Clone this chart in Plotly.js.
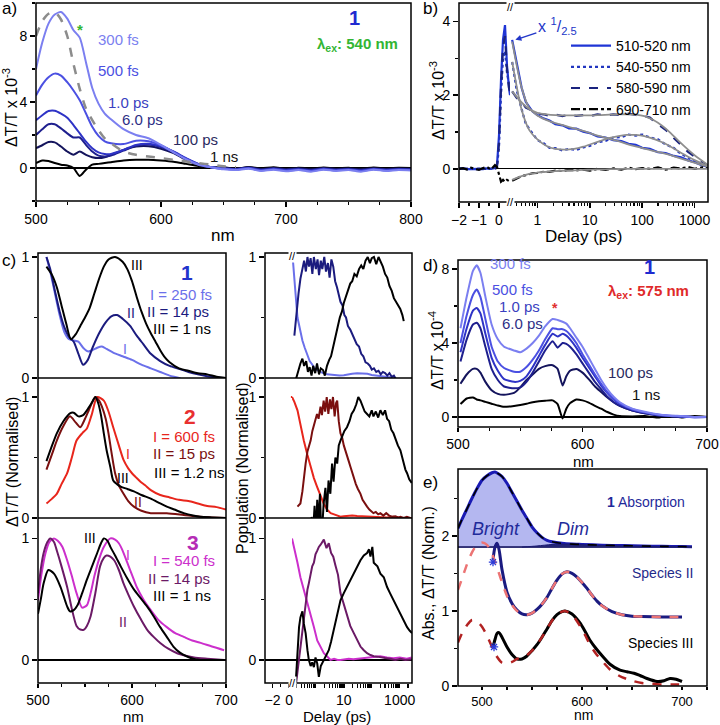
<!DOCTYPE html>
<html><head><meta charset="utf-8">
<script src="https://cdn.plot.ly/plotly-3.0.1.min.js"></script>
<style>html,body{margin:0;padding:0;background:#fff}#chart{width:720px;height:725px}</style>
</head><body><div id="chart"></div>
<script>
// ================= DATA =================
// Panel a: transient spectra, lambda_ex 540 nm (x 10^-3)
const aWl = [500,505,510,515,520,525,530,535,540,545,550,555,560,570,580,590,600,610,620,630,640,650,660,670,680,690,700,710,720,730,740,750,760,770,780,790,800];
const a300fs = [6.0,7.6,8.75,9.3,9.45,9.05,8.35,7.9,6.4,4.85,3.9,3.3,2.95,2.35,2.0,1.8,1.4,0.95,0.52,0.2,0.05,-0.08,-0.12,-0.05,-0.18,-0.1,-0.2,-0.12,-0.22,-0.1,-0.18,-0.12,-0.22,-0.1,-0.18,-0.12,-0.15];
const a500fs = [4.4,5.05,5.5,5.72,5.6,5.2,4.7,4.1,3.3,2.5,1.95,1.62,1.5,1.45,1.65,1.62,1.38,0.97,0.56,0.22,0.05,-0.05,-0.1,-0.02,-0.15,-0.08,-0.16,-0.1,-0.18,-0.08,-0.15,-0.1,-0.18,-0.08,-0.15,-0.1,-0.12];
const a1ps = [2.9,3.2,3.45,3.47,3.3,3.05,2.6,2.1,1.6,1.2,0.95,0.85,0.85,1.1,1.4,1.47,1.32,1.0,0.6,0.25,0.05,-0.03,-0.08,0.0,-0.12,-0.05,-0.13,-0.08,-0.15,-0.05,-0.12,-0.08,-0.15,-0.06,-0.12,-0.08,-0.1];
const a6ps = [2.0,2.35,2.65,2.65,2.4,2.1,1.85,1.85,1.4,1.0,0.75,0.7,0.75,1.05,1.35,1.42,1.27,0.97,0.57,0.23,0.05,-0.02,-0.06,0.02,-0.1,-0.03,-0.1,-0.05,-0.12,-0.04,-0.1,-0.06,-0.12,-0.05,-0.1,-0.06,-0.08];
const a100ps = [1.2,1.38,1.57,1.55,1.3,1.0,0.8,1.0,0.8,0.65,0.6,0.65,0.8,1.1,1.3,1.32,1.17,0.9,0.5,0.2,0.05,0.0,-0.04,0.04,-0.06,0.0,-0.07,-0.02,-0.08,0.0,-0.06,-0.03,-0.08,-0.02,-0.06,-0.03,-0.05];
const a1ns = [0.3,0.45,0.42,0.3,0.2,0.15,0.0,-0.48,-0.1,0.2,0.25,0.3,0.35,0.45,0.5,0.5,0.45,0.38,0.25,0.12,0.03,0.05,-0.05,0.06,-0.02,0.04,-0.04,0.02,-0.03,0.03,-0.02,0.02,-0.04,0.03,-0.02,0.01,0.0];
const aAbsScaled = [8.0,8.9,9.35,9.45,9.0,8.0,6.3,4.8,3.6,2.9,2.3,1.8,1.5,1.0,0.8,0.7,0.6,0.5,0.4,0.3,0.2,0.1,0.05];
const aDelayLabels = ['300 fs','500 fs','1.0 ps','6.0 ps','100 ps','1 ns'];

// Panel b: kinetics (x 10^-3)
const bLinT = [-2,-1.8,-1.6,-1.4,-1.2,-1,-0.8,-0.6,-0.4,-0.2,-0.1,0,0.1,0.2,0.3,0.4,0.5,0.55];
const bLin510 = [0,0.01,-0.01,0,0.01,0,-0.01,0.01,0,0.02,0.1,0.9,2.4,3.5,3.9,2.8,2.2,2.0];
const bLin540 = [0.01,0,0,0.01,-0.01,0,0.01,0,0,0.01,0.05,0.6,2.0,3.0,3.2,2.6,2.3,2.2];
const bLin580 = [0,0,0.01,-0.01,0,0.01,0,0,-0.01,0,0.05,0.7,2.2,3.3,3.6,2.7,2.2,2.1];
const bLin690 = [0,0.02,-0.02,0.03,0,-0.03,0.02,0.05,-0.02,0.1,0.05,-0.15,-0.35,-0.3,-0.36,-0.3,-0.33,-0.32];
const bLogT = [0.33,0.4,0.5,0.6,0.8,1,1.3,1.7,2.2,3,4,5.5,7.5,10,14,20,28,40,55,75,100,140,200,280,400,550,750,1000,1400,1800];
const b510 = [3.5,2.9,2.2,1.82,1.56,1.46,1.37,1.31,1.21,1.18,1.1,1.09,1.01,0.97,0.88,0.85,0.78,0.75,0.68,0.65,0.57,0.54,0.45,0.43,0.35,0.31,0.23,0.18,0.09,0.07];
const b540 = [2.9,2.15,1.62,1.22,0.97,0.78,0.7,0.57,0.56,0.5,0.54,0.51,0.58,0.62,0.72,0.76,0.85,0.86,0.93,0.9,0.93,0.85,0.8,0.66,0.57,0.4,0.31,0.19,0.11,0.04];
const b580 = [2.1,1.93,1.82,1.66,1.58,1.5,1.48,1.44,1.47,1.43,1.47,1.44,1.46,1.43,1.48,1.45,1.48,1.46,1.5,1.46,1.45,1.39,1.21,1.06,0.84,0.66,0.46,0.33,0.16,0.09];
const b690 = [-0.32,-0.26,-0.2,-0.17,-0.12,-0.11,-0.08,-0.08,-0.05,-0.06,-0.03,-0.04,-0.02,-0.05,0.0,-0.03,0.01,-0.02,0.03,-0.01,0.02,0.0,0.04,-0.02,0.03,0.01,0.05,0.0,0.04,0.03];
const bFitT = [0.33,0.5,0.7,1,1.5,2.2,3.3,5,7.5,11,16,24,35,50,75,110,160,240,350,500,750,1100,1600,1800];
const bFit510 = [3.45,2.2,1.65,1.45,1.32,1.24,1.17,1.1,1.03,0.95,0.88,0.81,0.75,0.68,0.61,0.55,0.49,0.43,0.37,0.3,0.22,0.15,0.08,0.06];
const bFit540 = [2.9,1.6,1.05,0.8,0.62,0.54,0.52,0.54,0.6,0.68,0.76,0.84,0.89,0.92,0.92,0.89,0.82,0.72,0.6,0.47,0.33,0.21,0.11,0.07];
const bFit580 = [2.1,1.8,1.62,1.52,1.48,1.46,1.45,1.45,1.45,1.45,1.46,1.47,1.48,1.48,1.47,1.43,1.33,1.17,0.97,0.75,0.52,0.32,0.16,0.1];
const bFit690 = [-0.3,-0.2,-0.14,-0.1,-0.08,-0.06,-0.05,-0.04,-0.03,-0.02,-0.015,-0.01,-0.005,0,0,0,0,0,0,0,0,0,0,0];
const bLegend = ['510-520 nm','540-550 nm','580-590 nm','690-710 nm'];

// Panel c (left): species spectra, normalised
const c1xI = [509,513,518,523,528,533,538,543,548,553,558,563,568,573,580,590,600,610,620,630,640,650,655,660,665,670,675,680,690,700];
const c1I = [1.0,0.88,0.7,0.52,0.38,0.32,0.31,0.3,0.25,0.22,0.23,0.25,0.26,0.24,0.21,0.18,0.15,0.11,0.08,0.05,0.02,0.0,-0.02,-0.04,-0.06,-0.03,-0.02,-0.02,-0.03,-0.13];
const c1xII = [509,513,518,523,528,533,538,543,548,553,558,565,572,578,584,590,598,605,612,620,630,640,650,660,670,680,690,700];
const c1II = [1.0,0.9,0.72,0.55,0.42,0.34,0.3,0.2,0.11,0.15,0.25,0.37,0.46,0.51,0.52,0.49,0.43,0.35,0.28,0.2,0.14,0.1,0.075,0.05,0.03,0.015,0.005,0.0];
const c1xIII = [509,515,520,525,530,535,540,545,550,555,560,565,570,575,582,590,595,600,605,610,615,620,625,630,635,640,650,660,670,680,690,700];
const c1III = [0.92,0.85,0.75,0.6,0.45,0.32,0.36,0.43,0.5,0.58,0.7,0.82,0.92,0.98,1.0,0.96,0.9,0.8,0.67,0.55,0.45,0.37,0.3,0.23,0.17,0.13,0.08,0.06,0.04,0.03,0.01,0.0];
const c2xI = [509,515,520,525,531,536,541,547,552,557,563,570,575,580,586,591,596,600,605,609,614,620,630,640,650,660,670,680,690,700];
const c2I = [0.12,0.16,0.2,0.28,0.37,0.5,0.64,0.7,0.74,0.85,1.0,0.97,0.88,0.75,0.6,0.48,0.41,0.37,0.33,0.3,0.27,0.23,0.19,0.17,0.15,0.14,0.12,0.1,0.09,0.07];
const c2xII = [509,515,520,527,534,540,545,550,554,558,561,565,568,572,575,578,582,586,591,596,602,610,620,637,655,672,685,700];
const c2II = [0.4,0.53,0.64,0.76,0.84,0.79,0.75,0.82,0.89,0.96,1.0,0.97,0.92,0.82,0.7,0.55,0.37,0.27,0.2,0.14,0.094,0.06,0.04,0.04,0.025,0.01,0.005,0.0];
const c2xIII = [509,515,520,527,534,538,543,548,552,557,561,564,567,570,573,577,580,584,588,595,602,610,620,630,637,645,655,665,673,685,700];
const c2III = [0.47,0.6,0.7,0.8,0.865,0.87,0.84,0.85,0.89,0.95,1.0,0.95,0.85,0.7,0.56,0.42,0.31,0.28,0.26,0.24,0.22,0.19,0.16,0.12,0.094,0.07,0.04,0.02,0.01,0.005,0.0];
const c3xI = [500,504,508,512,517,521,526,531,536,541,547,552,556,560,565,570,577,582,586,590,595,600,605,612,620,628,637,646,655,664,673,685,698];
const c3I = [0.49,0.72,0.88,0.97,1.0,0.98,0.93,0.82,0.69,0.55,0.43,0.45,0.55,0.69,0.83,0.93,1.0,0.99,0.96,0.9,0.8,0.7,0.6,0.5,0.41,0.33,0.27,0.22,0.19,0.16,0.14,0.11,0.08];
const c3xII = [500,503,506,510,513,517,520,525,531,536,541,545,549,552,556,561,566,570,573,577,581,586,591,596,602,609,616,623,630,639,648,657,666,680,698];
const c3II = [0.55,0.75,0.88,0.97,1.0,0.97,0.9,0.77,0.6,0.42,0.28,0.25,0.25,0.28,0.36,0.55,0.77,0.84,0.86,0.85,0.82,0.74,0.63,0.54,0.44,0.34,0.25,0.19,0.14,0.09,0.055,0.035,0.02,0.01,0.0];
const c3xIII = [500,503,506,511,517,524,531,534,538,542,547,552,558,563,567,570,574,577,582,588,595,602,609,616,623,630,637,644,651,658,665,673,685,698];
const c3III = [0.38,0.5,0.63,0.74,0.71,0.6,0.44,0.4,0.41,0.45,0.55,0.66,0.78,0.88,0.96,1.0,0.98,0.93,0.86,0.77,0.67,0.58,0.51,0.44,0.36,0.27,0.19,0.11,0.06,0.03,0.01,0.0,0.0,0.0];

// Panel c (right): populations vs delay (ps)
const c1rTI = [0.15,0.17,0.19,0.22,0.27,0.33,0.4,0.5,0.6,0.75,0.9,1.1,1.4,1.8,2.5,3.5,5,7,10,14,20,30,45,70,100,150,220,330,500,700];
const c1rI = [0.98,0.85,0.68,0.5,0.4,0.31,0.25,0.18,0.14,0.11,0.08,0.066,0.05,0.04,0.03,0.025,0.02,0.02,0.022,0.03,0.035,0.04,0.04,0.035,0.025,0.02,0.015,0.01,0.005,0.0];
const c1rTII = [0.17,0.2,0.24,0.28,0.33,0.38,0.44,0.5,0.57,0.65,0.75,0.85,1.0,1.15,1.3,1.5,1.7,2.0,2.3,2.7,3.1,3.6,4.2,4.9,5.7,6.6,7.6,9,10.5,12,14,17,20,24,29,35,42,50,60,72,86,100,120,145,175,210,250,300,360,430,520,620,740,880,1050,1250,1400];
const c1rII = [0.35,0.55,0.7,0.82,0.9,0.97,0.88,1.0,0.92,0.99,0.86,1.0,0.9,0.98,0.85,0.97,0.9,1.0,0.88,0.95,0.83,0.98,0.92,0.8,0.75,0.7,0.63,0.6,0.52,0.5,0.43,0.4,0.36,0.33,0.28,0.26,0.2,0.18,0.13,0.12,0.1,0.07,0.08,0.05,0.06,0.03,0.05,0.04,0.02,0.04,0.01,0.02,-0.01,-0.02,-0.05,-0.07,-0.1];
const c1rTIII = [0.15,0.18,0.21,0.24,0.28,0.33,0.38,0.45,0.52,0.6,0.7,0.8,0.95,1.1,1.3,1.5,1.8,2.1,2.5,3.0,3.5,4.2,5.0,6.0,7.2,8.6,10,12,14,17,20,24,29,35,42,50,60,72,86,100,120,145,175,210,250,300,360,430,520,620,740,880,1050,1250,1400];
const c1rIII = [-0.1,-0.03,0.03,0.07,0.12,0.16,0.1,0.14,0.05,0.09,0.02,0.1,0.04,0.12,0.03,0.08,0.066,0.02,0.1,0.15,0.18,0.26,0.35,0.42,0.5,0.55,0.62,0.68,0.73,0.78,0.8,0.86,0.84,0.9,0.93,0.9,0.97,1.0,0.95,0.99,1.0,0.94,1.0,0.96,0.92,0.86,0.83,0.76,0.72,0.66,0.63,0.6,0.57,0.52,0.47];
const c2rTI = [0.14,0.17,0.22,0.28,0.37,0.5,0.65,0.85,1.1,1.5,1.9,2.5,3.4,4.5,6,7.6,10,15,20,30,50,80,120,200,350,600,1000,1800,2700];
const c2rI = [1.0,0.96,0.89,0.77,0.64,0.52,0.42,0.33,0.26,0.18,0.12,0.07,0.04,0.03,0.02,0.01,0.015,0.02,0.02,0.017,0.015,0.01,0.01,0.01,0.005,0.01,0.0,0.0,0.0];
const c2rTII = [0.22,0.25,0.28,0.33,0.38,0.43,0.5,0.57,0.65,0.75,0.86,0.97,1.1,1.25,1.47,1.65,1.9,2.15,2.45,2.8,3.2,3.6,4.1,4.7,5.3,5.8,6.6,7.6,8.8,10,11.5,13,15,17.5,20,23,27,32,39.5,47,56,68,82,100,115,140,170,204,260,330,420,540,700,900,1060,1400,1800,2400];
const c2rII = [0.094,0.11,0.12,0.22,0.37,0.45,0.55,0.6,0.64,0.72,0.78,0.81,0.86,0.82,0.92,0.85,0.97,0.88,1.0,0.86,0.98,0.9,1.0,0.84,0.95,0.97,0.8,0.7,0.66,0.6,0.55,0.5,0.47,0.42,0.37,0.33,0.28,0.24,0.2,0.15,0.12,0.094,0.07,0.05,0.04,0.05,0.03,0.04,0.02,0.04,0.02,0.01,0.015,0.005,0.01,0.0,0.01,0.0];
const c2rTIII = [0.7,0.8,0.9,1.0,1.12,1.25,1.4,1.6,1.9,2.2,2.5,2.84,3.3,3.8,4.3,5,5.8,6.6,7.6,9,10.5,13,16,19,23,28,33,39.5,47,56,68,82,100,115,140,170,204,250,300,354,420,500,600,720,860,1060,1300,1600,1840,2200,2700];
const c2rIII = [0.01,-0.1,0.1,-0.15,0.15,-0.05,0.2,-0.18,0.12,0.25,0.05,0.31,0.2,0.45,0.3,0.5,0.45,0.6,0.64,0.68,0.72,0.75,0.8,0.86,0.89,0.94,1.0,0.97,0.92,0.88,0.86,0.84,0.89,0.84,0.88,0.83,0.89,0.85,0.89,0.82,0.8,0.73,0.7,0.64,0.6,0.56,0.47,0.4,0.37,0.32,0.29];
const c3rTI = [0.14,0.17,0.22,0.28,0.37,0.48,0.65,0.85,1.12,1.5,1.93,2.5,3.35,4.5,6,7.6,10,15,22,35,50,80,120,200,350,600,1000,1800,2700];
const c3rI = [1.0,0.92,0.8,0.68,0.58,0.47,0.38,0.27,0.16,0.1,0.055,0.03,0.0,0.01,0.0,0.0,0.005,0.01,0.005,0.01,0.014,0.02,0.027,0.03,0.02,0.014,0.02,0.01,0.02];
const c3rTII = [0.19,0.22,0.25,0.29,0.33,0.37,0.43,0.5,0.56,0.65,0.74,0.85,0.97,1.12,1.28,1.5,1.93,2.4,2.9,3.5,4.2,5,6.2,7.6,9.5,13,17,22.8,30,39.5,52,68,90,118,160,204,300,450,700,1060,1600,2700];
const c3rII = [-0.22,-0.1,0.0,0.12,0.25,0.36,0.48,0.58,0.63,0.7,0.77,0.8,0.87,0.9,0.93,0.95,0.99,0.92,0.96,0.88,0.85,0.78,0.7,0.55,0.47,0.36,0.28,0.22,0.16,0.11,0.08,0.055,0.04,0.03,0.027,0.02,0.015,0.01,0.0,0.01,0.0,0.005];
const c3rTIII = [0.19,0.22,0.25,0.28,0.31,0.33,0.37,0.43,0.5,0.56,0.65,0.74,0.85,0.97,1.12,1.28,1.5,1.93,2.4,2.9,3.5,4.4,5.5,7.6,10,13,17,22.8,30,39.5,52,68,80,90,105,118,160,204,270,354,450,610,800,1060,1400,1840,2300,2760];
const c3rIII = [-0.19,0.05,0.27,0.35,0.4,0.4,0.3,0.22,0.08,0.0,-0.05,-0.02,-0.06,0.02,-0.03,-0.14,-0.05,0.0,0.05,0.08,0.15,0.25,0.35,0.49,0.55,0.6,0.66,0.71,0.77,0.82,0.86,0.88,0.91,0.85,0.93,0.8,0.77,0.71,0.68,0.6,0.55,0.49,0.44,0.38,0.32,0.27,0.24,0.22];
const cLinT = [0.2,0.33];
const c1rLinI = [1.0,0.98];
const c2rLinI = [1.0,1.0];
const c3rLinIII = [-0.15,-0.19];

// Panel d: transient spectra, lambda_ex 575 nm (x 10^-4)
const dWl = [502,507,512,515,518,522,527,532,537,545,550,555,560,565,570,576,580,584,587,590,595,600,605,610,615,620,625,630,640,650,660,670,680,690,700];
const d300fs = [4.8,6.5,7.9,8.2,7.8,6.5,5.0,4.2,3.8,3.6,3.5,3.7,4.0,4.4,4.9,5.3,5.25,5.15,5.05,4.8,4.3,3.8,3.2,2.6,2.0,1.5,1.1,0.8,0.45,0.28,0.15,0.08,0.05,0.0,0.02];
const d500fs = [4.0,5.5,6.6,6.9,6.5,5.3,3.8,3.0,2.65,2.45,2.45,2.7,3.1,3.6,4.2,4.8,4.75,4.75,4.65,4.45,4.0,3.4,2.85,2.3,1.8,1.35,1.0,0.75,0.42,0.25,0.13,0.06,0.03,-0.02,0.0];
const d1ps = [3.5,4.8,5.75,5.9,5.6,4.5,3.2,2.5,2.05,1.9,1.95,2.2,2.7,3.3,3.9,4.5,4.35,4.5,4.4,4.2,3.75,3.2,2.7,2.2,1.7,1.3,0.95,0.7,0.4,0.25,0.12,0.07,0.03,0.0,0.0];
const d6ps = [3.0,4.2,5.0,5.1,4.8,3.8,2.6,2.0,1.65,1.55,1.6,1.9,2.4,3.0,3.6,4.1,3.75,4.0,3.95,3.8,3.4,2.9,2.4,1.9,1.5,1.1,0.8,0.6,0.35,0.2,0.1,0.05,0.02,0.0,0.0];
const d100ps = [1.8,2.3,2.6,2.6,2.4,1.9,1.45,1.25,1.2,1.3,1.6,2.0,2.3,2.6,2.75,2.8,2.6,1.7,2.2,2.5,2.6,2.4,2.05,1.65,1.35,1.05,0.8,0.6,0.35,0.2,0.1,0.05,0.02,0.0,0.0];
const d1ns = [0.7,1.0,1.05,0.95,0.9,0.82,0.72,0.62,0.55,0.6,0.65,0.72,0.8,0.85,0.88,0.9,0.7,-0.08,0.45,0.75,0.95,0.9,0.78,0.6,0.45,0.27,0.13,0.05,0.03,0.05,-0.03,0.06,-0.02,0.05,0.0];
const dDelayLabels = ['300 fs','500 fs','1.0 ps','6.0 ps','100 ps','1 ns'];

// Panel e: absorption and species spectra
const eAbsX = [476,480,485,490,495,500,505,510,513,516,520,525,530,535,540,545,550,555,560,565,570,580,590,600,620,640,660,680,700,710];
const eAbs = [2.1,2.22,2.36,2.5,2.63,2.74,2.8,2.84,2.85,2.83,2.79,2.7,2.58,2.46,2.34,2.23,2.12,2.04,1.98,1.94,1.92,1.9,1.89,1.885,1.875,1.87,1.865,1.86,1.858,1.855];
const eBaseX = [476,710];
const eBase = [1.85,1.85];
const eDimX = [540,555,570,585,600,620,640,660,680,700,710];
const eDim = [1.85,1.865,1.885,1.89,1.882,1.872,1.866,1.861,1.857,1.854,1.852];
const eIIx = [511,513,515,517,520,525,530,535,540,545,550,555,560,565,570,575,580,585,590,595,600,605,610,615,620,630,640,650,660,680,700];
const eII = [1.68,1.85,1.9,1.82,1.55,1.25,1.1,1.01,0.96,0.95,0.97,1.02,1.09,1.18,1.3,1.41,1.49,1.52,1.5,1.45,1.38,1.3,1.21,1.13,1.07,0.99,0.95,0.93,0.925,0.92,0.92];
const eIIfitX = [476,480,485,490,495,500,505,510,515,520,525,530,535,540,545,550,555,560,565,570,575,580,585,590,595,600,605,610,615,620,630,640,650,660,680,700];
const eIIfit = [1.28,1.43,1.62,1.78,1.88,1.91,1.88,1.76,1.58,1.38,1.2,1.08,1.0,0.96,0.95,0.97,1.02,1.09,1.18,1.3,1.41,1.49,1.52,1.5,1.45,1.38,1.3,1.21,1.13,1.07,0.99,0.95,0.93,0.925,0.92,0.92];
const eIIIx = [511,513,515,517,520,525,530,535,540,545,550,555,560,565,570,575,580,583,590,598,603,608,614,621,628,638,645,652,658,665,675,682,688,694,700];
const eIII = [0.52,0.62,0.7,0.71,0.65,0.52,0.42,0.36,0.36,0.4,0.47,0.55,0.65,0.76,0.87,0.95,0.99,1.0,0.96,0.84,0.73,0.61,0.5,0.39,0.29,0.21,0.19,0.17,0.14,0.1,0.06,0.07,0.1,0.09,0.06];
const eIIIfitX = [476,480,485,490,495,500,505,510,515,520,525,530,535,540,545,550,555,560,565,570,575,580,583,590,598,603,608,614,621,628,638,650,660,670,680,690,700];
const eIIIfit = [0.58,0.7,0.81,0.88,0.86,0.79,0.67,0.52,0.39,0.31,0.3,0.32,0.36,0.38,0.41,0.47,0.55,0.65,0.76,0.87,0.95,0.99,1.0,0.95,0.8,0.68,0.55,0.43,0.32,0.22,0.13,0.07,0.04,0.03,0.02,0.02,0.02];
const eStarX = [511,512];
const eStarY = [1.65,0.52];

// ================= LAYOUT HELPERS =================
const W = 720, H = 725;
const FONT = 'Liberation Sans, Arial, Helvetica, sans-serif';
function dx(a, b) { return [a / W, b / W]; }
function dy(t, b) { return [1 - b / H, 1 - t / H]; }
function F(size, color, extra) { return Object.assign({family: FONT, size: size, color: color || '#000'}, extra || {}); }
const MINOR = {ticks: 'outside', ticklen: 3, tickwidth: 1.2, tickcolor: '#000', showgrid: false};
function axis(o) {
  const base = {showgrid: false, zeroline: false, showline: false, ticks: 'outside', ticklen: 5, tickwidth: 1.5,
    tickcolor: '#000', tickfont: F(14), fixedrange: true, automargin: false};
  return Object.assign(base, o);
}
function logMinor(lo, hi) { const v = []; for (let e = lo; e <= hi; e++) { for (let m = 2; m <= 9; m++) v.push(m * Math.pow(10, e)); } return v; }
const ZL = {zeroline: true, zerolinecolor: '#000', zerolinewidth: 1.3};

const traces = [];
function L(x, y, xa, ya, color, width, dash, extra) {
  const t = {type: 'scatter', mode: 'lines', x: x, y: y, xaxis: xa, yaxis: ya,
    line: {color: color, width: width, dash: dash || 'solid', shape: 'spline', smoothing: 0.7},
    showlegend: false, hoverinfo: 'skip'};
  if (extra) { for (const k in extra) { if (k === 'line') Object.assign(t.line, extra.line); else t[k] = extra[k]; } }
  traces.push(t); return t;
}
const LIN = {line: {shape: 'linear'}};

// ================= TRACES =================
// a
const aSeries = [a300fs, a500fs, a1ps, a6ps, a100ps, a1ns];
const aColors = ['#7b7ff0', '#4b50e2', '#2e33c6', '#1e1f8e', '#14145c', '#000000'];
for (let i = aSeries.length - 1; i >= 0; i--) L(aWl, aSeries[i], 'x', 'y', aColors[i], 2);
L(aWl.slice(0, aAbsScaled.length), aAbsScaled, 'x', 'y', '#8c8c8c', 2.5, 'dash');

// b
const bCols = ['#1f35d6', '#2236c0', '#1a237e', '#000000'];
const bDash = ['solid', 'dot', 'dash', 'dashdot'];
const bLin = [bLin510, bLin540, bLin580, bLin690];
const bLog = [b510, b540, b580, b690];
const bFit = [bFit510, bFit540, bFit580, bFit690];
for (let i = 0; i < 4; i++) L(bLinT, bLin[i], 'x2', 'y2', bCols[i], 2.2, bDash[i], LIN);
for (let i = 0; i < 4; i++) L(bLogT, bLog[i], 'x3', 'y2', bCols[i], 2.2, bDash[i], {line: {shape: 'linear'}, name: bLegend[i], showlegend: true});
for (let i = 0; i < 4; i++) L(bFitT, bFit[i], 'x3', 'y2', '#8e8e8e', 1.8, 'solid');

// c left
const c1Col = ['#6b70ea', '#1b1b7e', '#000000'];
const c2Col = ['#e8261c', '#7a0f0f', '#000000'];
const c3Col = ['#cc2fcc', '#6b1a66', '#000000'];
L(c1xI, c1I, 'x4', 'y3', c1Col[0], 2); L(c1xII, c1II, 'x4', 'y3', c1Col[1], 2); L(c1xIII, c1III, 'x4', 'y3', c1Col[2], 2);
L(c2xI, c2I, 'x4', 'y4', c2Col[0], 2); L(c2xII, c2II, 'x4', 'y4', c2Col[1], 2); L(c2xIII, c2III, 'x4', 'y4', c2Col[2], 2);
L(c3xI, c3I, 'x4', 'y5', c3Col[0], 2); L(c3xII, c3II, 'x4', 'y5', c3Col[1], 2); L(c3xIII, c3III, 'x4', 'y5', c3Col[2], 2);

// c right
L(cLinT, c1rLinI, 'x5', 'y6', c1Col[0], 2, 'solid', LIN);
L(cLinT, c2rLinI, 'x5', 'y7', c2Col[0], 2, 'solid', LIN);
L(cLinT, c3rLinIII, 'x5', 'y8', c3Col[2], 2, 'solid', LIN);
L(c1rTI, c1rI, 'x6', 'y6', c1Col[0], 2, 'solid', LIN); L(c1rTII, c1rII, 'x6', 'y6', c1Col[1], 2, 'solid', LIN); L(c1rTIII, c1rIII, 'x6', 'y6', c1Col[2], 2, 'solid', LIN);
L(c2rTI, c2rI, 'x6', 'y7', c2Col[0], 2, 'solid', LIN); L(c2rTII, c2rII, 'x6', 'y7', c2Col[1], 2, 'solid', LIN); L(c2rTIII, c2rIII, 'x6', 'y7', c2Col[2], 2, 'solid', LIN);
L(c3rTI, c3rI, 'x6', 'y8', c3Col[0], 2, 'solid', LIN); L(c3rTII, c3rII, 'x6', 'y8', c3Col[1], 2, 'solid', LIN); L(c3rTIII, c3rIII, 'x6', 'y8', c3Col[2], 2, 'solid', LIN);

// d
const dSeries = [d300fs, d500fs, d1ps, d6ps, d100ps, d1ns];
for (let i = dSeries.length - 1; i >= 0; i--) L(dWl, dSeries[i], 'x7', 'y9', aColors[i], 2, 'solid', {line: {smoothing: 0.5}});

// e
L(eBaseX, eBase, 'x8', 'y10', '#27276e', 1.5, 'solid', LIN);
L(eAbsX, eAbs, 'x8', 'y10', '#1a1ab4', 3, 'solid', {fill: 'tonexty', fillcolor: '#b4b7f0'});
L(eBaseX, eBase, 'x8', 'y10', '#27276e', 1.2, 'solid', LIN);
L(eDimX, eDim, 'x8', 'y10', '#1a1a70', 1, 'solid', {fill: 'tonexty', fillcolor: '#23237a'});
L(eAbsX, eAbs, 'x8', 'y10', '#000000', 1.6, 'dash');
L(eIIx, eII, 'x8', 'y10', '#1b1b80', 3);
L(eIIfitX, eIIfit, 'x8', 'y10', '#ec7474', 2.5, 'dash');
L(eIIIx, eIII, 'x8', 'y10', '#000000', 3);
L(eIIIfitX, eIIIfit, 'x8', 'y10', '#b22222', 2.5, 'dash');
traces.push({type: 'scatter', mode: 'markers', x: eStarX, y: eStarY, xaxis: 'x8', yaxis: 'y10', showlegend: false, hoverinfo: 'skip',
  marker: {symbol: 'asterisk-open', size: 7, color: '#2a3ad8', line: {width: 1.3, color: '#2a3ad8'}}});

// ================= AXES =================
const layout = {
  width: W, height: H, margin: {l: 0, r: 0, t: 0, b: 0}, paper_bgcolor: '#fff', plot_bgcolor: 'rgba(0,0,0,0)',
  font: F(14), showlegend: true,
  legend: {x: 566 / W, y: 1 - 30 / H, xanchor: 'left', yanchor: 'top', bgcolor: 'rgba(0,0,0,0)', font: F(14),
    traceorder: 'normal', itemwidth: 40, tracegroupgap: 0},
  // a
  xaxis: axis({domain: dx(36, 411), range: [500, 800], anchor: 'y', tick0: 500, dtick: 100, minor: Object.assign({dtick: 25, tick0: 500}, MINOR)}),
  yaxis: axis(Object.assign({domain: dy(3, 201), range: [-2, 10], anchor: 'x', tick0: 0, dtick: 4, minor: Object.assign({dtick: 2, tick0: 0}, MINOR)}, ZL)),
  // b
  xaxis2: axis({domain: dx(459, 510), range: [-2, 0.55], anchor: 'y2', tick0: -2, dtick: 1, minor: Object.assign({dtick: 0.5, tick0: -2}, MINOR)}),
  xaxis3: axis({domain: dx(510, 708), type: 'log', range: [Math.log10(0.3), Math.log10(1800)], anchor: 'y2',
    tickmode: 'array', tickvals: [1, 10, 100, 1000], ticktext: ['1', '10', '100', '1000'],
    minor: Object.assign({tickmode: 'array', tickvals: logMinor(-1, 3)}, MINOR)}),
  yaxis2: axis(Object.assign({domain: dy(3, 202), range: [-0.9, 4.5], anchor: 'x2', tick0: 0, dtick: 2, minor: Object.assign({dtick: 1, tick0: 0}, MINOR)}, ZL)),
  // c left
  xaxis4: axis({domain: dx(38, 226), range: [500, 700], anchor: 'y5', tick0: 500, dtick: 100, ticklen: 4, minor: Object.assign({dtick: 25, tick0: 500}, MINOR)}),
  yaxis3: axis({domain: dy(253, 378), range: [0, 1.033], anchor: 'x4', tick0: 0, dtick: 1, minor: Object.assign({dtick: 0.5, tick0: 0}, MINOR)}),
  yaxis4: axis({domain: dy(378, 518), range: [0, 1.157], anchor: 'x4', tick0: 0, dtick: 1, minor: Object.assign({dtick: 0.5, tick0: 0}, MINOR)}),
  yaxis5: axis(Object.assign({domain: dy(518, 683), range: [-0.19, 1.168], anchor: 'x4', tick0: 0, dtick: 1, minor: Object.assign({dtick: 0.5, tick0: 0}, MINOR)}, ZL)),
  // c right
  xaxis5: axis({domain: dx(265, 292), range: [-2.9, 0.33], anchor: 'y8', tick0: -2, dtick: 2, ticklen: 4, minor: Object.assign({dtick: 1, tick0: -2}, MINOR)}),
  xaxis6: axis({domain: dx(292, 412), type: 'log', range: [Math.log10(0.14), Math.log10(2760)], anchor: 'y8', ticklen: 4,
    tickmode: 'array', tickvals: [10, 1000], ticktext: ['10', '1000'],
    minor: Object.assign({tickmode: 'array', tickvals: [1, 100].concat(logMinor(-1, 3))}, MINOR, {ticklen: 4})}),
  yaxis6: axis({domain: dy(253, 378), range: [0, 1.033], anchor: 'x5', tick0: 0, dtick: 1, minor: Object.assign({dtick: 0.5, tick0: 0}, MINOR)}),
  yaxis7: axis({domain: dy(378, 518), range: [0, 1.157], anchor: 'x5', tick0: 0, dtick: 1, minor: Object.assign({dtick: 0.5, tick0: 0}, MINOR)}),
  yaxis8: axis(Object.assign({domain: dy(518, 683), range: [-0.19, 1.168], anchor: 'x5', tick0: 0, dtick: 1, minor: Object.assign({dtick: 0.5, tick0: 0}, MINOR)}, ZL)),
  // d
  xaxis7: axis({domain: dx(458, 707), range: [500, 700], anchor: 'y9', tick0: 500, dtick: 100, ticklen: 4, minor: Object.assign({dtick: 25, tick0: 500}, MINOR)}),
  yaxis9: axis(Object.assign({domain: dy(260, 427), range: [-0.54, 8.49], anchor: 'x7', tick0: 0, dtick: 4, minor: Object.assign({dtick: 2, tick0: 0}, MINOR)}, ZL)),
  // e
  xaxis8: axis({domain: dx(458, 707), range: [476, 725], anchor: 'y10', tick0: 500, dtick: 100, ticklen: 3, tickfont: F(13), minor: Object.assign({dtick: 25, tick0: 500}, MINOR)}),
  yaxis10: axis({domain: dy(469, 686), range: [0, 2.89], anchor: 'x8', tick0: 0, dtick: 1, minor: Object.assign({dtick: 0.5, tick0: 0}, MINOR)})
};

// frames & dividers
function frame(l, t, r, b) { return {type: 'rect', xref: 'paper', yref: 'paper', x0: l / W, x1: r / W, y0: 1 - b / H, y1: 1 - t / H, line: {color: '#000', width: 1.5}, fillcolor: 'rgba(0,0,0,0)', layer: 'above'}; }
function hline(l, r, y) { return {type: 'line', xref: 'paper', yref: 'paper', x0: l / W, x1: r / W, y0: 1 - y / H, y1: 1 - y / H, line: {color: '#000', width: 1.3}, layer: 'above'}; }
layout.shapes = [frame(36, 3, 411, 201), frame(459, 3, 708, 202), frame(38, 253, 226, 683), frame(265, 253, 412, 683),
  frame(458, 260, 707, 427), frame(458, 469, 707, 686),
  hline(38, 226, 378), hline(38, 226, 518), hline(265, 412, 378), hline(265, 412, 518)];

// ================= ANNOTATIONS =================
const ann = [];
function A(text, x, y, xref, yref, o) { ann.push(Object.assign({text: text, x: x, y: y, xref: xref, yref: yref, showarrow: false, xanchor: 'center', yanchor: 'middle', font: F(15)}, o || {})); }
function AP(text, px, py, o) { A(text, px / W, 1 - py / H, 'paper', 'paper', o); }

// panel letters
AP('a)', 0, 9, {xanchor: 'left', font: F(17)});
AP('b)', 430, 9, {font: F(17)});
AP('c)', 0, 260, {xanchor: 'left', font: F(17)});
AP('d)', 430, 265, {font: F(17)});
AP('e)', 430, 482, {font: F(17)});
// axis titles
AP('ΔT/T x 10<sup>-3</sup>', 10, 108, {textangle: -90, font: F(16)});
AP('nm', 223, 235, {font: F(17)});
AP('ΔT/T x 10<sup>-3</sup>', 437, 100, {textangle: -90, font: F(16)});
AP('Delay (ps)', 583, 236, {font: F(17)});
AP('ΔT/T (Normalised)', 12, 462, {textangle: -90, font: F(16)});
AP('nm', 133, 716, {font: F(15)});
AP('Population (Normalised)', 242, 468, {textangle: -90, font: F(16)});
AP('Delay (ps)', 337, 716, {font: F(15)});
AP('ΔT/T x 10<sup>-4</sup>', 436, 350, {textangle: -90, font: F(16)});
AP('nm', 583, 461, {font: F(15)});
AP('Abs., ΔT/T (Norm.)', 428, 573, {textangle: -90, font: F(16)});
AP('nm', 583, 725, {font: F(14), yanchor: 'bottom'});
// axis breaks
AP('//', 510, 202, {font: F(11), bgcolor: '#fff', borderpad: 0});
AP('//', 510, 7, {font: F(11), bgcolor: '#fff', borderpad: 0});
AP('//', 292, 683, {font: F(11), bgcolor: '#fff', borderpad: 0});
AP('//', 292, 256, {font: F(11), bgcolor: '#fff', borderpad: 0});

// panel a labels
const aLabX = [565.6, 565.6, 573.6, 584.8, 627.2, 650.4];
const aLabY = [7.76, 5.88, 3.94, 2.91, 1.7, 0.67];
const aLabCol = ['#7b7ff0', '#4b50e2', '#3a3fc0', '#2e2e86', '#2a2a5e', '#111'];
for (let i = 0; i < 6; i++) A(aDelayLabels[i], aLabX[i], aLabY[i], 'x', 'y', {font: F(15, aLabCol[i])});
A('<b>1</b>', 755, 9.1, 'x', 'y', {font: F(20, '#1f2ad0')});
A('<b>λ<sub>ex</sub>: 540 nm</b>', 757, 7.5, 'x', 'y', {font: F(15, '#33b533')});
A('<b>*</b>', 535.2, 8.4, 'x', 'y', {font: F(15, '#33b533')});

// panel b annotation
A('x <sup>1</sup>/<sub>2.5</sub>', Math.log10(0.38), 3.5, 'x3', 'y2',
  {showarrow: true, arrowhead: 2, arrowsize: 0.8, arrowwidth: 1.5, arrowcolor: '#2236c8', ax: 42, ay: -14, font: F(16, '#2236c8')});

// panel c left labels
A('<b>1</b>', 658.5, 0.87, 'x4', 'y3', {font: F(21, '#2233cc')});
A('I = 250 fs', 652, 0.69, 'x4', 'y3', {font: F(15, c1Col[0])});
A('II = 14 ps', 649, 0.55, 'x4', 'y3', {font: F(15, c1Col[1])});
A('III = 1 ns', 653, 0.41, 'x4', 'y3', {font: F(15, '#000')});
A('III', 605.3, 0.93, 'x4', 'y3', {font: F(14, '#000')});
A('II', 599, 0.54, 'x4', 'y3', {font: F(14, c1Col[1])});
A('I', 592.6, 0.24, 'x4', 'y3', {font: F(14, c1Col[0])});
A('<b>2</b>', 661.7, 0.835, 'x4', 'y4', {font: F(21, '#e83030')});
A('I = 600 fs', 655.3, 0.67, 'x4', 'y4', {font: F(15, c2Col[0])});
A('II = 15 ps', 655.3, 0.53, 'x4', 'y4', {font: F(15, c2Col[1])});
A('III = 1.2 ns', 660.6, 0.38, 'x4', 'y4', {font: F(15, '#000')});
A('I', 595.7, 0.53, 'x4', 'y4', {font: F(14, c2Col[0])});
A('III', 590.4, 0.33, 'x4', 'y4', {font: F(14, '#000')});
A('II', 606.4, 0.13, 'x4', 'y4', {font: F(14, c2Col[1])});
A('<b>3</b>', 665, 0.97, 'x4', 'y5', {font: F(21, '#b52cb5')});
A('I = 540 fs', 655.3, 0.82, 'x4', 'y5', {font: F(15, c3Col[0])});
A('II = 14 ps', 650, 0.67, 'x4', 'y5', {font: F(15, c3Col[1])});
A('III = 1 ns', 653.2, 0.53, 'x4', 'y5', {font: F(15, '#000')});
A('III', 555.3, 1.0, 'x4', 'y5', {font: F(14, '#000')});
A('I', 595.7, 0.86, 'x4', 'y5', {font: F(14, c3Col[0])});
A('II', 590.4, 0.31, 'x4', 'y5', {font: F(14, c3Col[1])});

// panel d labels
const dLabX = [524.1, 525.7, 531.3, 533.7, 638.2, 651];
const dLabY = [8.32, 6.92, 5.95, 5.03, 2.43, 1.24];
for (let i = 0; i < 6; i++) A(dDelayLabels[i], dLabX[i], dLabY[i], 'x7', 'y9', {xanchor: i < 4 ? 'left' : 'center', font: F(15, aLabCol[i])});
A('<b>1</b>', 654.2, 8.1, 'x7', 'y9', {font: F(20, '#1f2ad0')});
A('<b>λ<sub>ex</sub>: 575 nm</b>', 653.4, 6.8, 'x7', 'y9', {font: F(15, '#e02a2a')});
A('<b>*</b>', 577.9, 5.9, 'x7', 'y9', {font: F(14, '#e03030')});

// panel e labels
A('<b>1</b> Absorption', 663.5, 2.45, 'x8', 'y10', {font: F(14, '#1f2a9a')});
A('Species II', 680.5, 1.51, 'x8', 'y10', {font: F(14, '#1f2a8a')});
A('Species III', 678.5, 0.57, 'x8', 'y10', {font: F(14, '#000')});
A('<i>Bright</i>', 513.5, 2.09, 'x8', 'y10', {font: F(18, '#1f2a9a')});
A('<i>Dim</i>', 591, 2.09, 'x8', 'y10', {font: F(18, '#1f2a9a')});

layout.annotations = ann;

Plotly.newPlot('chart', traces, layout, {staticPlot: true, displayModeBar: false});
</script>
</body></html>
